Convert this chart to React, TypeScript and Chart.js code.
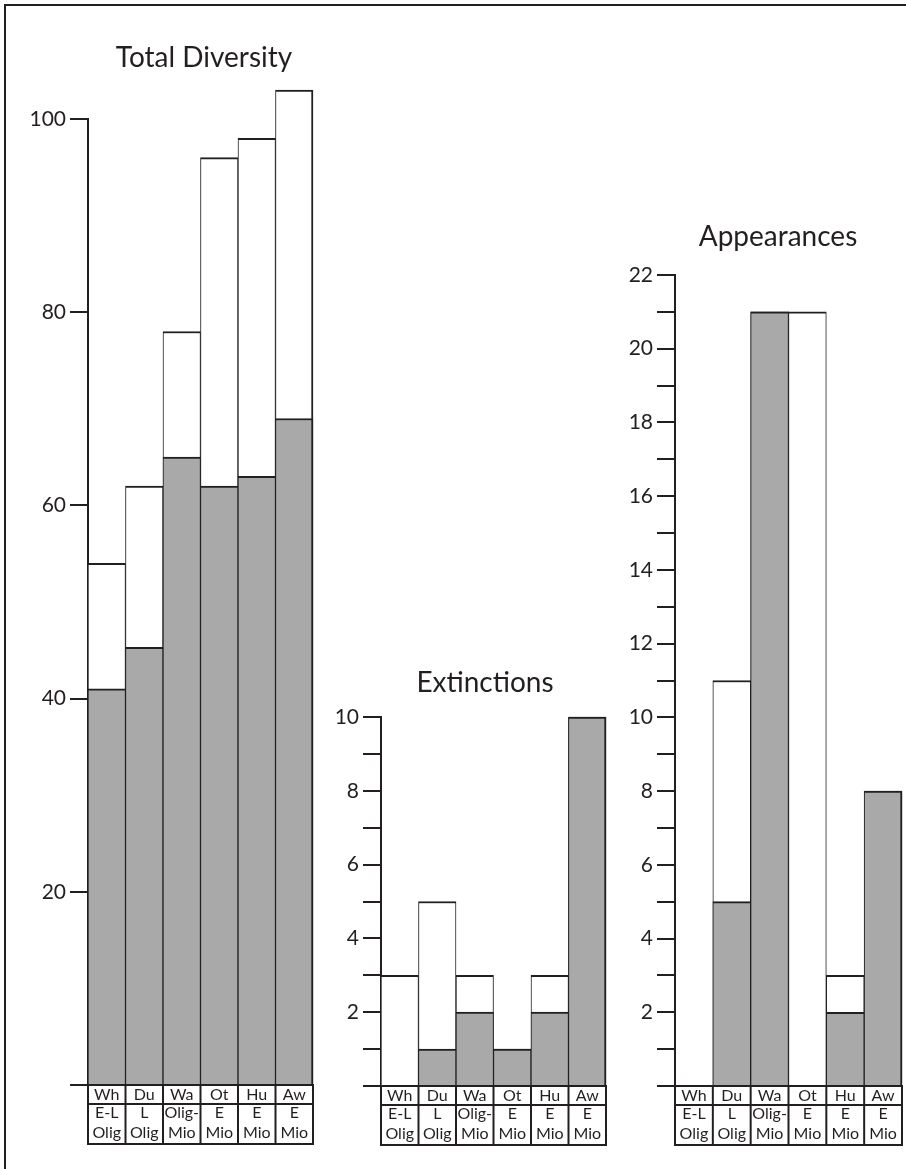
import React, { useEffect, useRef } from "react";
import { Chart, registerables } from "chart.js";

Chart.register(...registerables);

const INK = "#231f20";
const SHADE = "#a9a9a9";
const FONT = "Lato, 'Open Sans', sans-serif";

// Categories (stage codes and ages)
const stageCodes = ["Wh", "Du", "Wa", "Ot", "Hu", "Aw"];
const stageAgeTop = ["E-L", "L", "Olig-", "E", "E", "E"];
const stageAgeBottom = ["Olig", "Olig", "Mio", "Mio", "Mio", "Mio"];

// Total Diversity
const diversityTotal = [54, 62, 78, 96, 98, 103];
const diversityShaded = [41, 45.3, 65, 62, 63, 69];
// Extinctions
const extinctionTotal = [3, 5, 3, 1, 3, 10];
const extinctionShaded = [0, 1, 2, 1, 2, 10];
// Appearances
const appearanceTotal = [0, 11, 21, 21, 3, 8];
const appearanceShaded = [0, 5, 21, 0, 2, 8];

// Axis ranges / tick steps
const diversityAxis = { max: 100, step: 20, labelEvery: 20 };
const extinctionAxis = { max: 10, step: 1, labelEvery: 2 };
const appearanceAxis = { max: 22, step: 1, labelEvery: 2 };

type Panel = {
  title: string;
  totals: number[];
  shaded: number[];
  axis: { max: number; step: number; labelEvery: number };
  box: { left: number; top: number; width: number; height: number };
  yWidth: number;
  pad: { top: number; right: number; bottom: number };
  titlePos: { x: number; y: number };
};

const stageTablePlugin = {
  id: "stageTable",
  afterDraw(chart: any) {
    const x = chart.scales.x;
    const area = chart.chartArea;
    const ctx = chart.ctx as CanvasRenderingContext2D;
    const n = stageCodes.length;
    const half = (x.getPixelForValue(1) - x.getPixelForValue(0)) / 2;
    const edges: number[] = [];
    for (let i = 0; i < n; i++) edges.push(x.getPixelForValue(i) - half);
    edges.push(x.getPixelForValue(n - 1) + half);
    const top = area.bottom;
    const mid = top + 19;
    const bottom = top + 59;
    ctx.save();
    ctx.strokeStyle = INK;
    ctx.lineWidth = 2;
    ctx.beginPath();
    [top, mid, bottom].forEach((y) => {
      ctx.moveTo(edges[0] - 1, y);
      ctx.lineTo(edges[n] + 1, y);
    });
    edges.forEach((px) => {
      ctx.moveTo(px, top);
      ctx.lineTo(px, bottom);
    });
    ctx.stroke();
    ctx.fillStyle = INK;
    ctx.font = `16px ${FONT}`;
    ctx.textAlign = "center";
    ctx.textBaseline = "middle";
    for (let i = 0; i < n; i++) {
      const cx = x.getPixelForValue(i);
      ctx.fillText(stageCodes[i], cx, top + 10);
      ctx.fillText(stageAgeTop[i], cx, top + 28);
      ctx.fillText(stageAgeBottom[i], cx, top + 48);
    }
    ctx.restore();
  },
};

const panelTitlePlugin = {
  id: "panelTitle",
  afterDraw(chart: any, _args: any, opts: any) {
    const ctx = chart.ctx as CanvasRenderingContext2D;
    ctx.save();
    ctx.fillStyle = INK;
    ctx.font = `28px ${FONT}`;
    ctx.textAlign = "center";
    ctx.textBaseline = "alphabetic";
    ctx.fillText(opts.text, opts.x, opts.y);
    ctx.restore();
  },
};

function buildConfig(p: Panel): any {
  const last = stageCodes.length - 1;
  const borderWidth = (c: any) => ({
    top: 2,
    bottom: 0,
    left: 1,
    right: c.dataIndex === last ? 2 : 1,
  });
  return {
    type: "bar",
    data: {
      labels: stageCodes,
      datasets: [
        {
          label: "shaded",
          data: p.shaded,
          backgroundColor: SHADE,
          borderColor: INK,
          borderWidth,
          borderSkipped: false,
          barPercentage: 1,
          categoryPercentage: 1,
          grouped: false,
          clip: false,
          order: 0,
        },
        {
          label: "total",
          data: p.totals,
          backgroundColor: "#ffffff",
          borderColor: INK,
          borderWidth,
          borderSkipped: false,
          barPercentage: 1,
          categoryPercentage: 1,
          grouped: false,
          clip: false,
          order: 1,
        },
      ],
    },
    options: {
      animation: false,
      responsive: true,
      maintainAspectRatio: false,
      layout: {
        padding: { left: 0, top: p.pad.top, right: p.pad.right, bottom: p.pad.bottom },
      },
      plugins: {
        legend: { display: false },
        tooltip: { enabled: false },
        title: { display: false },
        panelTitle: { text: p.title, x: p.titlePos.x, y: p.titlePos.y },
      },
      scales: {
        x: { display: false },
        y: {
          min: 0,
          max: p.axis.max,
          afterFit: (scale: any) => {
            scale.width = p.yWidth;
          },
          border: { display: true, color: INK, width: 2 },
          grid: {
            display: true,
            drawOnChartArea: false,
            drawTicks: true,
            tickLength: 18,
            color: INK,
            lineWidth: 2,
          },
          ticks: {
            stepSize: p.axis.step,
            autoSkip: false,
            color: INK,
            padding: 4,
            font: { family: FONT, size: 21 },
            callback: (v: number) =>
              v !== 0 && v % p.axis.labelEvery === 0 ? String(v) : "",
          },
        },
      },
    },
    plugins: [stageTablePlugin, panelTitlePlugin],
  };
}

const panels: Panel[] = [
  {
    title: "Total Diversity",
    totals: diversityTotal,
    shaded: diversityShaded,
    axis: diversityAxis,
    box: { left: 10, top: 20, width: 315, height: 1140 },
    yWidth: 78,
    pad: { top: 99, right: 12, bottom: 75 },
    titlePos: { x: 194, y: 47 },
  },
  {
    title: "Extinctions",
    totals: extinctionTotal,
    shaded: extinctionShaded,
    axis: extinctionAxis,
    box: { left: 325, top: 600, width: 300, height: 560 },
    yWidth: 56,
    pad: { top: 117, right: 19, bottom: 74 },
    titlePos: { x: 160, y: 92 },
  },
  {
    title: "Appearances",
    totals: appearanceTotal,
    shaded: appearanceShaded,
    axis: appearanceAxis,
    box: { left: 625, top: 180, width: 281, height: 980 },
    yWidth: 50,
    pad: { top: 95, right: 4, bottom: 74 },
    titlePos: { x: 153, y: 66 },
  },
];

function BarPanel({ panel }: { panel: Panel }) {
  const ref = useRef<HTMLCanvasElement>(null);
  useEffect(() => {
    const chart = new Chart(ref.current as HTMLCanvasElement, buildConfig(panel));
    return () => chart.destroy();
  }, [panel]);
  const b = panel.box;
  return (
    <div
      style={{
        position: "absolute",
        left: b.left,
        top: b.top,
        width: b.width,
        height: b.height,
      }}
    >
      <canvas ref={ref} />
    </div>
  );
}

export default function App() {
  return (
    <div
      style={{
        position: "absolute",
        left: 0,
        top: 0,
        width: 906,
        height: 1169,
        background: "#ffffff",
        overflow: "hidden",
        fontFamily: FONT,
      }}
    >
      <div
        style={{
          position: "absolute",
          left: 4,
          top: 4,
          width: 902,
          height: 1165,
          borderTop: `2px solid ${INK}`,
          borderLeft: `2px solid ${INK}`,
          boxSizing: "border-box",
        }}
      />
      {panels.map((p) => (
        <BarPanel key={p.title} panel={p} />
      ))}
    </div>
  );
}
